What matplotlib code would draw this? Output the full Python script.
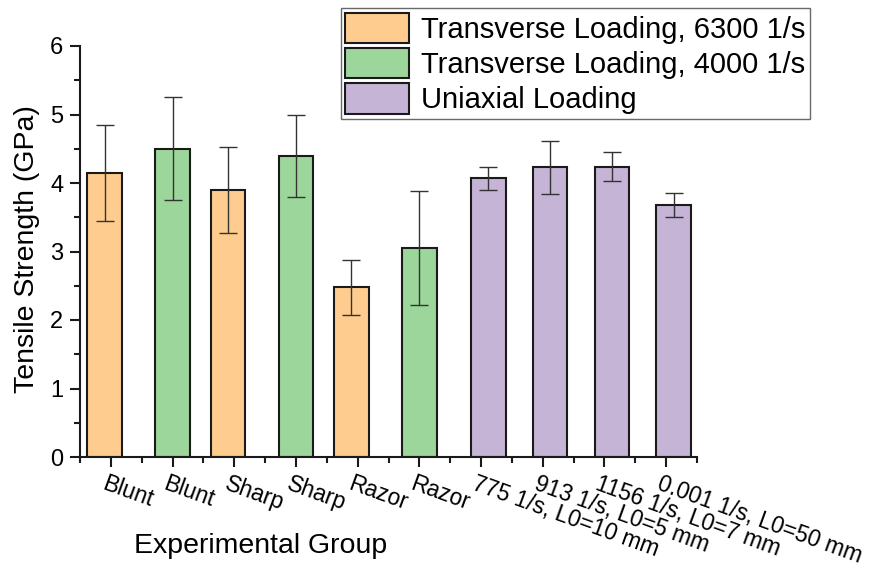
import matplotlib
matplotlib.use("Agg")
import matplotlib.pyplot as plt
import matplotlib.transforms as mtransforms
from matplotlib.patches import Patch
from matplotlib.ticker import MultipleLocator, FixedLocator

plt.rcParams['font.family'] = ['Liberation Sans', 'DejaVu Sans']

# Data
labels = ["Blunt", "Blunt", "Sharp", "Sharp", "Razor", "Razor",
          "775 1/s, L0=10 mm", "913 1/s, L0=5 mm", "1156 1/s, L0=7 mm",
          "0.001 1/s, L0=50 mm"]
strength = [4.15, 4.50, 3.90, 4.40, 2.48, 3.05, 4.07, 4.23, 4.24, 3.68]
error = [0.70, 0.75, 0.63, 0.60, 0.40, 0.83, 0.17, 0.39, 0.21, 0.17]
group = [0, 1, 0, 1, 0, 1, 2, 2, 2, 2]
group_names = ["Transverse Loading, 6300 1/s",
               "Transverse Loading, 4000 1/s",
               "Uniaxial Loading"]
group_colors = ["#FECC8F", "#9CD69A", "#C5B4D6"]
group_offset = [-0.10, 0.0, 0.12]

fig = plt.figure(figsize=(8.76, 5.68), dpi=100)
ax = fig.add_axes([80 / 876, 1 - 457 / 568, (697 - 80) / 876, (457 - 46) / 568])

pos = list(range(1, len(labels) + 1))
xs = [p + group_offset[g] for p, g in zip(pos, group)]
cols = [group_colors[g] for g in group]
ax.bar(xs, strength, width=0.56, color=cols, edgecolor="#1a1a1a",
       linewidth=1.5, zorder=2)
ax.errorbar(xs, strength, yerr=error, fmt="none", ecolor="#333333",
            elinewidth=1.0, capsize=6.5, capthick=1.0, zorder=3)

ax.set_xlim(0.5, 10.5)
ax.set_ylim(0, 6)
ax.spines["top"].set_visible(False)
ax.spines["right"].set_visible(False)
for s in ("left", "bottom"):
    ax.spines[s].set_linewidth(1.5)
    ax.spines[s].set_color("#1a1a1a")

ax.yaxis.set_major_locator(MultipleLocator(1))
ax.yaxis.set_minor_locator(MultipleLocator(0.5))
ax.xaxis.set_major_locator(FixedLocator(pos))
ax.xaxis.set_minor_locator(FixedLocator([p + 0.5 for p in range(0, 11)]))
ax.tick_params(axis="both", which="major", direction="out", length=7,
               width=1.5, color="#1a1a1a", labelsize=17)
ax.tick_params(axis="both", which="minor", direction="out", length=4,
               width=1.5, color="#1a1a1a")
ax.tick_params(axis="y", which="major", pad=5)

ax.set_xticks(pos)
ax.set_xticklabels(labels, rotation=-20, ha="left", va="top",
                   rotation_mode="anchor", fontsize=16.5)
offset = mtransforms.ScaledTranslation(-4 / 100, -1 / 100, fig.dpi_scale_trans)
for lab in ax.get_xticklabels():
    lab.set_transform(lab.get_transform() + offset)

ax.set_ylabel("Tensile Strength (GPa)", fontsize=20.5)
ax.yaxis.set_label_coords(-0.065, 0.505)
ax.set_xlabel("Experimental Group", fontsize=20.5)
ax.xaxis.set_label_coords(0.292, -0.185)

handles = [Patch(facecolor=c, edgecolor="#1a1a1a", linewidth=1.5)
           for c in group_colors]
leg = fig.legend(handles, group_names, loc="upper left",
                 bbox_to_anchor=(341 / 876, 1 - 8.3 / 568),
                 fontsize=21, frameon=True, fancybox=False, shadow=False,
                 handlelength=2.19, handleheight=1.22, handletextpad=0.4,
                 labelspacing=0.15, borderpad=0.15, borderaxespad=0)
leg.get_frame().set_edgecolor("#444444")
leg.get_frame().set_linewidth(1.0)

fig.savefig("out.png", dpi=100)
